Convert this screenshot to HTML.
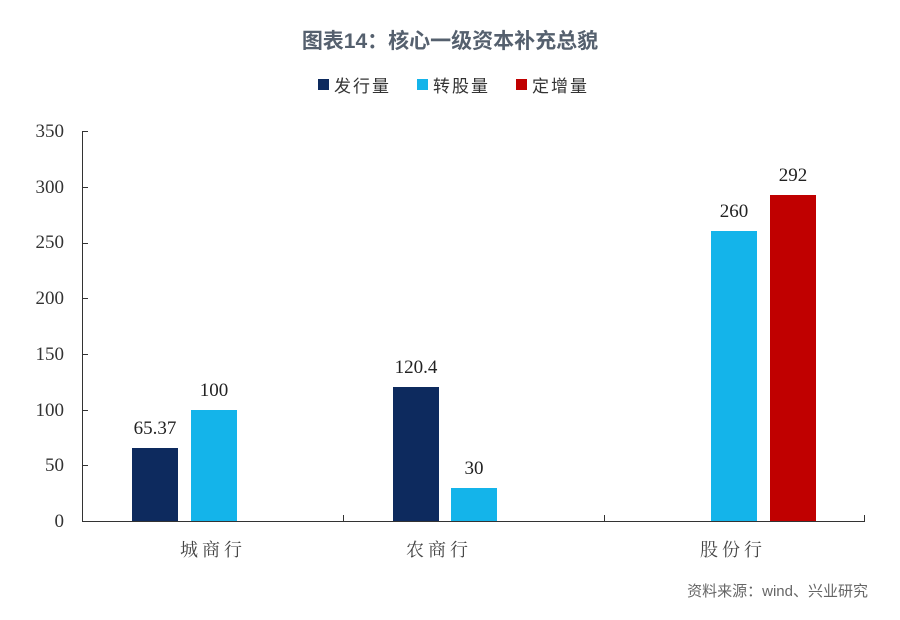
<!DOCTYPE html>
<html><head><meta charset="utf-8"><style>
body{margin:0;background:#fff;width:900px;height:615px;overflow:hidden}
text{font-family:"Liberation Serif","Noto Serif CJK SC",serif}
.cjk{font-family:"Liberation Sans","Noto Sans CJK SC",sans-serif}
</style></head><body>
<svg width="900" height="615" xmlns="http://www.w3.org/2000/svg">
<text x="450" y="48" text-anchor="middle" class="cjk" font-size="21" font-weight="bold" fill="#55606e">图表14：核心一级资本补充总貌</text>
<rect x="318" y="79" width="11" height="11" fill="#0d2a5e"/>
<text x="334" y="92" class="cjk" font-size="17" fill="#333" letter-spacing="2">发行量</text>
<rect x="417" y="79" width="11" height="11" fill="#14b4ea"/>
<text x="433" y="92" class="cjk" font-size="17" fill="#333" letter-spacing="2">转股量</text>
<rect x="516" y="79" width="11" height="11" fill="#c00000"/>
<text x="532" y="92" class="cjk" font-size="17" fill="#333" letter-spacing="2">定增量</text>
<g font-size="19" fill="#333" text-anchor="end">
<text x="64" y="527">0</text><text x="64" y="416">100</text><text x="64" y="471">50</text>
<text x="64" y="360">150</text><text x="64" y="304">200</text><text x="64" y="248">250</text>
<text x="64" y="193">300</text><text x="64" y="137">350</text>
</g>
<line x1="82.5" y1="131" x2="82.5" y2="521" stroke="#333"/>
<line x1="82" y1="521.5" x2="865" y2="521.5" stroke="#333"/>
<g stroke="#333"><line x1="82" y1="131.5" x2="88" y2="131.5"/><line x1="82" y1="187.5" x2="88" y2="187.5"/><line x1="82" y1="243.5" x2="88" y2="243.5"/><line x1="82" y1="298.5" x2="88" y2="298.5"/><line x1="82" y1="354.5" x2="88" y2="354.5"/><line x1="82" y1="410.5" x2="88" y2="410.5"/><line x1="82" y1="465.5" x2="88" y2="465.5"/>
<line x1="343.5" y1="515" x2="343.5" y2="521"/><line x1="604.5" y1="515" x2="604.5" y2="521"/><line x1="864.5" y1="515" x2="864.5" y2="521"/></g>
<rect x="132" y="448" width="46" height="73" fill="#0d2a5e"/>
<rect x="191" y="410" width="46" height="111" fill="#14b4ea"/>
<rect x="393" y="387" width="46" height="134" fill="#0d2a5e"/>
<rect x="451" y="488" width="46" height="33" fill="#14b4ea"/>
<rect x="711" y="231" width="46" height="290" fill="#14b4ea"/>
<rect x="770" y="195" width="46" height="326" fill="#c00000"/>
<g font-size="19" fill="#222" text-anchor="middle">
<text x="155" y="434">65.37</text><text x="214" y="396">100</text>
<text x="416" y="373">120.4</text><text x="474" y="474">30</text>
<text x="734" y="217">260</text><text x="793" y="181">292</text>
</g>
<g class="cjk" font-size="18" fill="#444" text-anchor="middle" letter-spacing="4">
<text x="213" y="556">城商行</text><text x="439" y="556">农商行</text><text x="733" y="556">股份行</text>
</g>
<text x="868" y="596" text-anchor="end" class="cjk" font-size="15" fill="#666">资料来源：wind、兴业研究</text>
</svg>
</body></html>
